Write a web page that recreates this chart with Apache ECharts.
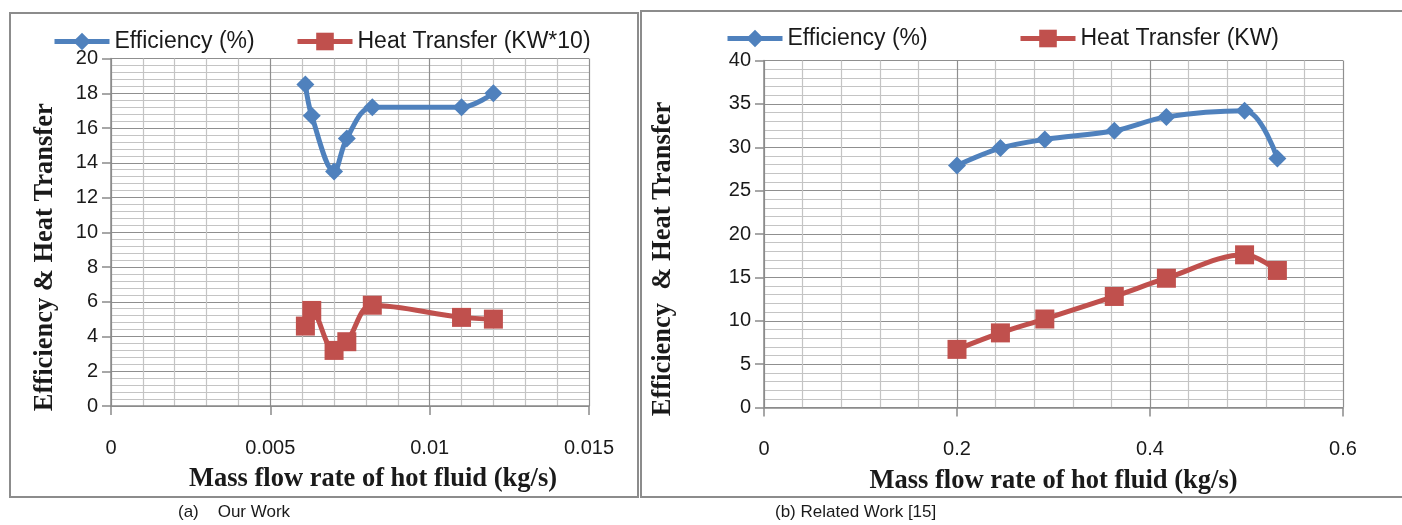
<!DOCTYPE html>
<html>
<head>
<meta charset="utf-8">
<script src="https://cdn.jsdelivr.net/npm/echarts@6/dist/echarts.min.js"></script>
<style>
  html, body { margin: 0; padding: 0; background: #fff; }
  #chart { width: 1402px; height: 525px; }
</style>
</head>
<body>
<div id="chart"></div>
<script>
// (a) Our Work: mass flow rate (kg/s) vs efficiency (%) and heat transfer (KW*10)
const flowA = [0.0061, 0.0063, 0.0070, 0.0074, 0.0082, 0.0110, 0.0120];
const effA  = [18.5, 16.7, 13.5, 15.4, 17.2, 17.2, 18.0];
const heatA = [4.6, 5.5, 3.2, 3.7, 5.8, 5.1, 5.0];

// (b) Related Work [15]: mass flow rate (kg/s) vs efficiency (%) and heat transfer (KW)
const flowB = [0.200, 0.245, 0.291, 0.363, 0.417, 0.498, 0.532];
const effB  = [27.9, 29.9, 30.9, 31.9, 33.5, 34.2, 28.7];
const heatB = [6.7, 8.6, 10.2, 12.8, 14.9, 17.6, 15.8];

const namesA = ['Efficiency (%)', 'Heat Transfer (KW*10)'];
const namesB = ['Efficiency (%)', 'Heat Transfer (KW)'];
const captions = ['(a)    Our Work', '(b) Related Work [15]'];
const xTitle = 'Mass flow rate of hot fluid (kg/s)';
const yTitleA = 'Efficiency & Heat Transfer';
const yTitleB = 'Efficiency  & Heat Transfer';

const BLUE = '#4F81BD';
const RED = '#C0504D';
const TXT = '#1a1a1a';

const pairs = (xs, ys) => xs.map((x, i) => [x, ys[i]]);

function xAxisCfg(gridIndex, max, interval, fmt, namePad) {
  return {
    type: 'value', gridIndex, min: 0, max, interval,
    name: xTitle, nameLocation: 'middle', nameGap: 60,
    nameTextStyle: { fontFamily: 'Liberation Serif', fontWeight: 'bold', fontSize: 26.5, color: TXT, padding: namePad },
    axisLine: { show: true, lineStyle: { color: '#8a8a8a', width: 1.5 } },
    axisTick: { show: true, length: 9, lineStyle: { color: '#8a8a8a', width: 1.5 } },
    axisLabel: { margin: 32, fontFamily: 'Liberation Sans', fontSize: 20, color: TXT, formatter: fmt },
    splitLine: { show: true, lineStyle: { color: '#8f8f8f', width: 1.2 } },
    minorTick: { show: false, splitNumber: 5 },
    minorSplitLine: { show: true, lineStyle: { color: '#c4c4c4', width: 1.2 } }
  };
}

function yAxisCfg(gridIndex, max, interval, title, gap) {
  return {
    type: 'value', gridIndex, min: 0, max, interval,
    name: title, nameLocation: 'middle', nameGap: gap, nameRotate: 90,
    nameTextStyle: { fontFamily: 'Liberation Serif', fontWeight: 'bold', fontSize: 26.5, color: TXT, padding: [0, 50, 0, 0] },
    axisLine: { show: true, lineStyle: { color: '#8a8a8a', width: 1.5 } },
    axisTick: { show: true, length: 9, lineStyle: { color: '#8a8a8a', width: 1.5 } },
    axisLabel: { margin: 13, fontFamily: 'Liberation Sans', fontSize: 20, color: TXT },
    splitLine: { show: true, lineStyle: { color: '#8f8f8f', width: 1.2 } },
    minorTick: { show: false, splitNumber: 5 },
    minorSplitLine: { show: true, lineStyle: { color: '#c4c4c4', width: 1.2 } }
  };
}

function lineSeries(name, idx, data, color, symbol, size) {
  return {
    type: 'line', name, xAxisIndex: idx, yAxisIndex: idx, data,
    smooth: 0.35, symbol, symbolSize: size,
    lineStyle: { color, width: 5 },
    itemStyle: { color, borderWidth: 0 },
    emphasis: { disabled: true },
    animation: false
  };
}

function legendCfg(name, left, top) {
  return {
    data: [name], left, top, itemWidth: 55, itemHeight: 22,
    lineStyle: { width: 5 },
    textStyle: { fontFamily: 'Liberation Sans', fontSize: 23, color: TXT },
    selectedMode: false
  };
}

const fmtA = v => (v === 0 ? '0' : String(+v.toFixed(3)));
const fmtB = v => (v === 0 ? '0' : String(+v.toFixed(1)));

const option = {
  backgroundColor: '#fff',
  animation: false,
  grid: [
    { left: 111, top: 58.5, width: 478, height: 347.5 },
    { left: 764, top: 60.5, width: 579, height: 347 }
  ],
  xAxis: [
    xAxisCfg(0, 0.015, 0.005, fmtA, [0, 0, 0, 46]),
    xAxisCfg(1, 0.6, 0.2, fmtB, [0, 0, 0, 0])
  ],
  yAxis: [
    yAxisCfg(0, 20, 2, yTitleA, 52),
    yAxisCfg(1, 40, 5, yTitleB, 87)
  ],
  legend: [
    legendCfg(namesA[0], 47, 25),
    legendCfg(namesA[1], 290, 25),
    legendCfg(namesB[0], 720, 22),
    legendCfg(namesB[1], 1013, 22)
  ],
  series: [
    lineSeries(namesA[0], 0, pairs(flowA, effA), BLUE, 'diamond', 18),
    lineSeries(namesA[1], 0, pairs(flowA, heatA), RED, 'rect', 19),
    lineSeries(namesB[0], 1, pairs(flowB, effB), BLUE, 'diamond', 18),
    lineSeries(namesB[1], 1, pairs(flowB, heatB), RED, 'rect', 19)
  ],
  graphic: [
    { type: 'rect', shape: { x: 10, y: 13, width: 628, height: 484 },
      style: { fill: 'none', stroke: '#8c8c8c', lineWidth: 2 }, silent: true },
    { type: 'rect', shape: { x: 641, y: 11, width: 770, height: 486 },
      style: { fill: 'none', stroke: '#8c8c8c', lineWidth: 2 }, silent: true },
    { type: 'text', left: 178, top: 504,
      style: { text: captions[0], fontFamily: 'Liberation Sans', fontSize: 17, fill: TXT }, silent: true },
    { type: 'text', left: 775, top: 504,
      style: { text: captions[1], fontFamily: 'Liberation Sans', fontSize: 17, fill: TXT }, silent: true }
  ]
};

const chart = echarts.init(document.getElementById('chart'), null, { renderer: 'canvas' });
chart.setOption(option);
</script>
</body>
</html>
